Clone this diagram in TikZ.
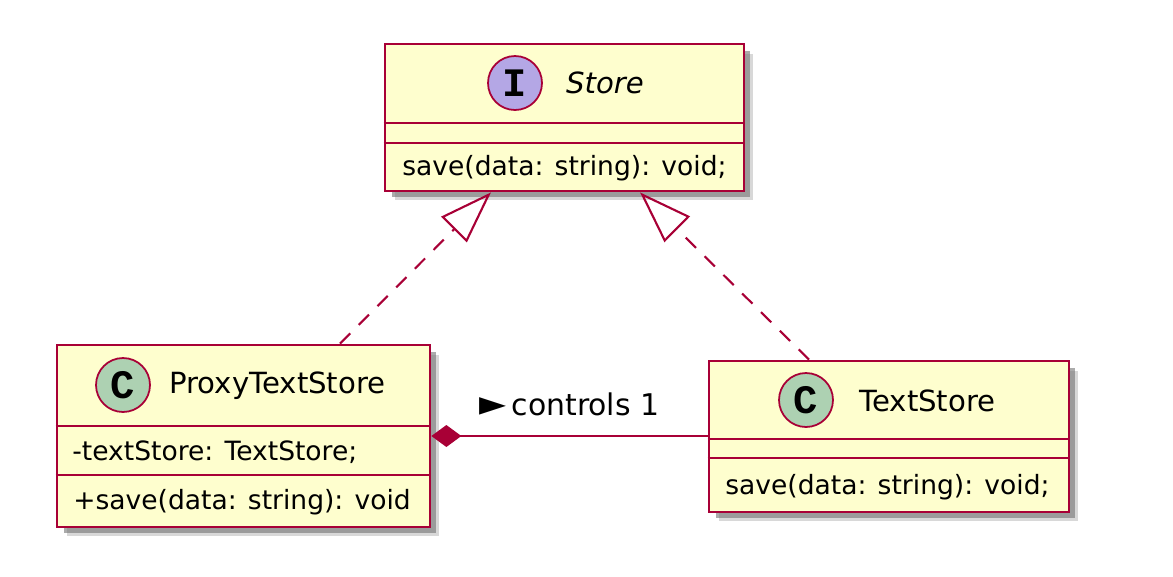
\documentclass[tikz,border=0pt]{standalone}
\usepackage{fontspec}
\setmainfont{DejaVu Sans}
\newfontfamily\spotfont{Liberation Mono}
\usetikzlibrary{arrows.meta, shadows}
\definecolor{umlred}{HTML}{A80036}
\definecolor{umlfill}{HTML}{FEFECE}
\definecolor{spotc}{HTML}{ADD1B2}
\definecolor{spoti}{HTML}{B4A7E5}

\begin{document}
\begin{tikzpicture}[x=0.02cm, y=-0.02cm,
  every node/.style={inner sep=0pt},
  classbox/.style={rectangle, draw=umlred, fill=umlfill, line width=1.6pt,
    drop shadow={shadow xshift=0.19cm, shadow yshift=-0.19cm, fill=black!30, opacity=0.5},
    drop shadow={shadow xshift=0.13cm, shadow yshift=-0.13cm, fill=black!55, opacity=0.6}},
  spot/.style={circle, draw=umlred, line width=1pt, minimum size=1.08cm, font=\spotfont\bfseries\fontsize{23}{23}\selectfont},
  cname/.style={font=\fontsize{16.6}{20}\selectfont},
  member/.style={anchor=west, font=\fontsize{15.1}{18}\selectfont},
  sep/.style={draw=umlred, line width=1.6pt},
  realize/.style={draw=umlred, line width=1.2pt, dash pattern=on 0.29cm off 0.24cm, -{Triangle[open, length=1.05cm, width=0.72cm]}},
  compose/.style={draw=umlred, line width=1.2pt, {Diamond[length=0.6cm, width=0.44cm, fill=umlred]}-}]
	\useasboundingbox (0,0) rectangle (1173,576);
	
	\node[classbox, minimum width=7.18cm, minimum height=2.94cm] (store) at (564.5,117.5){};
	\node[classbox, minimum width=7.46cm, minimum height=3.64cm] (proxy) at (243.5,436){};
	\node[classbox, minimum width=7.2cm, minimum height=3.02cm] (text) at (889,436.5){};
	
	\path[sep] (store.west |- 0,123) -- (store.east |- 0,123);
	\path[sep] (store.west |- 0,143) -- (store.east |- 0,143);
	\path[sep] (proxy.west |- 0,426) -- (proxy.east |- 0,426);
	\path[sep] (proxy.west |- 0,475) -- (proxy.east |- 0,475);
	\path[sep] (text.west |- 0,439) -- (text.east |- 0,439);
	\path[sep] (text.west |- 0,458) -- (text.east |- 0,458);
	
	\node[spot, fill=spoti] (storeI) at (515,83){I};
	\node[cname, font=\fontsize{16.6}{20}\selectfont\itshape] (storeN) at (605,83){Store};
	\node[member] (storeM) at (402,168){save(data: string): void;};
	
	\node[spot, fill=spotc] (proxyC) at (123,385){C};
	\node[cname] (proxyN) at (277.5,386){ProxyTextStore};
	\node[member] (proxyA) at (72,452){-textStore: TextStore;};
	\node[member] (proxyM) at (73,502){+save(data: string): void};
	
	\node[spot, fill=spotc] (textC) at (806,400){C};
	\node[cname] (textN) at (927.5,401){TextStore};
	\node[member] (textM) at (725,487){save(data: string): void;};
	
	\draw[realize] ([xshift=1.93cm]proxy.north) -- ([xshift=-1.47cm]store.south);
	\draw[realize] ([xshift=-1.6cm]text.north) -- ([xshift=1.51cm]store.south);
	\draw[compose] (proxy.east) -- node[above=0.38cm, font=\fontsize{17}{20}\selectfont]{{\fontsize{20}{20}\selectfont ►}\,controls 1} (proxy.east -| text.west);
\end{tikzpicture}
\end{document}
